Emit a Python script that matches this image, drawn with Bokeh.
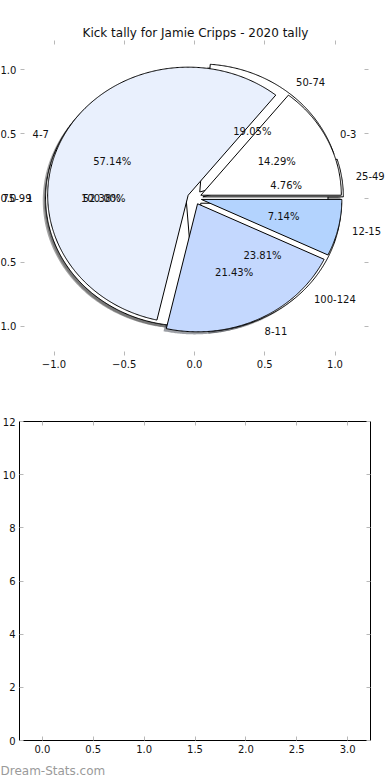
import numpy as np
from bokeh.plotting import figure
from bokeh.layouts import column
from bokeh.models import (ColumnDataSource, LinearAxis, FixedTicker, LabelSet,
                          CustomJSTickFormatter, Range1d, Title)
from bokeh.embed import file_html
from bokeh.resources import INLINE
from bokeh.core.properties import value

# ---------------- data ----------------
chart_title = "Kick tally for Jamie Cripps - 2020 tally"
watermark = "Dream-Stats.com"

kick_labels = ["0-3", "4-7", "8-11", "12-15"]
kick_counts = [2, 8, 3, 1]
kick_colors = ["#ffffff", "#e9f0fd", "#c4d8fe", "#b3d3fe"]
kick_explode = [0.05, 0.05, 0.05, 0.05]

band_labels = ["25-49", "50-74", "75-99", "100-124"]
band_counts = [1, 4, 11, 5]
band_colors = ["#ffffff", "#ffffff", "#ffffff", "#ffffff"]
band_explode = [0.06, 0.06, 0.06, 0.06]

extra_labels = ["1"]
extra_counts = [1]
extra_colors = ["#ffffff"]
extra_explode = [0.05]

pie_ticks = [-1.0, -0.5, 0.0, 0.5, 1.0]
pie_lim = (-1.24, 1.24)
bar_xticks = [0.0, 0.5, 1.0, 1.5, 2.0, 2.5, 3.0]
bar_yticks = [0, 2, 4, 6, 8, 10, 12]
bar_xlim = (-0.225, 3.225)
bar_ylim = (0, 12)

FONT = "DejaVu Sans"


def shade(hexcol, k=0.3):
    h = hexcol.lstrip("#")
    r, g, b = (int(h[i:i + 2], 16) for i in (0, 2, 4))
    return "#%02x%02x%02x" % (int(r * k), int(g * k), int(b * k))


def pie_parts(labels, counts, colors, explode):
    c = np.asarray(counts, dtype=float)
    frac = c / c.sum()
    t1 = 360.0 * np.concatenate([[0.0], np.cumsum(frac)[:-1]])
    t2 = t1 + 360.0 * frac
    w = dict(xs=[], ys=[], fill=[], sxs=[], sys=[], sfill=[])
    lab = dict(x=[], y=[], text=[], align=[])
    pct = dict(x=[], y=[], text=[])
    for a, b, col, e, name, f in zip(t1, t2, colors, explode, labels, frac):
        mid = np.deg2rad((a + b) / 2.0)
        cx, cy = e * np.cos(mid), e * np.sin(mid)
        th = np.deg2rad(np.linspace(a, b, max(int(b - a) * 2, 2) + 1))
        xs = list(cx + np.cos(th))
        ys = list(cy + np.sin(th))
        if b - a < 359.999:
            xs = [cx] + xs + [cx]
            ys = [cy] + ys + [cy]
        w["xs"].append(xs)
        w["ys"].append(ys)
        w["fill"].append(col)
        w["sxs"].append([v - 0.02 for v in xs])
        w["sys"].append([v - 0.02 for v in ys])
        w["sfill"].append(shade(col))
        lx = cx + 1.1 * np.cos(mid)
        ly = cy + 1.1 * np.sin(mid)
        lab["x"].append(lx)
        lab["y"].append(ly)
        lab["text"].append(name)
        lab["align"].append("left" if lx > 0 else "right")
        pct["x"].append(cx + 0.6 * np.cos(mid))
        pct["y"].append(cy + 0.6 * np.sin(mid))
        pct["text"].append("%.2f%%" % (100.0 * f))
    return w, lab, pct


pies = [
    pie_parts(extra_labels, extra_counts, extra_colors, extra_explode),
    pie_parts(band_labels, band_counts, band_colors, band_explode),
    pie_parts(kick_labels, kick_counts, kick_colors, kick_explode),
]

fmt1 = "return tick.toFixed(1).replace('-', '\\u2212');"
fmt0 = "return tick.toFixed(0);"


def style_axis(ax, ticks, code=None, line=None, bounds=None):
    ax.ticker = FixedTicker(ticks=ticks)
    ax.axis_line_color = line
    ax.axis_line_width = 1
    if bounds is not None:
        ax.bounds = bounds
    ax.major_tick_in = 4
    ax.major_tick_out = 0
    ax.minor_tick_line_color = None
    ax.major_tick_line_color = "#b8b8b8"
    ax.major_tick_line_width = 1
    ax.major_label_text_font = FONT
    ax.major_label_text_color = "#111111"
    if code is not None:
        ax.formatter = CustomJSTickFormatter(code=code)
        ax.major_label_text_font_size = "10px"
        ax.major_label_standoff = 4
    else:
        ax.formatter = CustomJSTickFormatter(code="return '';")
        ax.major_label_text_font_size = "0px"
        ax.major_label_standoff = 0


W = 390
# ---------------- pie figure ----------------
unit1 = 140.5
left1 = 194.0
p1 = figure(frame_width=W, frame_height=315,
            x_range=Range1d(-left1 / unit1, (W - left1) / unit1),
            y_range=Range1d(-1.23, 1.23),
            x_axis_location=None, y_axis_location=None,
            output_backend="svg", toolbar_location=None,
            min_border_top=40, min_border_bottom=40, min_border_right=0,
            min_border_left=0)
p1.title.text = chart_title
p1.title.align = "center"
p1.title.offset = left1 - W / 2.0
p1.title.text_font = FONT
p1.title.text_font_size = "12px"
p1.title.text_font_style = "normal"
p1.title.text_color = "#111111"
p1.title.standoff = 2
p1.outline_line_color = None
p1.xgrid.visible = False
p1.ygrid.visible = False

ax = LinearAxis(); style_axis(ax, pie_ticks, fmt1, bounds=pie_lim); p1.add_layout(ax, "below")
ax = LinearAxis(); style_axis(ax, pie_ticks, None, bounds=pie_lim); p1.add_layout(ax, "above")
ax = LinearAxis(fixed_location=pie_lim[0]); style_axis(ax, pie_ticks, fmt1); p1.add_layout(ax, "left")
ax = LinearAxis(fixed_location=pie_lim[1]); style_axis(ax, pie_ticks, None); p1.add_layout(ax, "right")

for w, lab, pct in pies:
    p1.patches("sxs", "sys", source=ColumnDataSource(dict(sxs=w["sxs"], sys=w["sys"], sfill=w["sfill"])),
               fill_color="sfill", fill_alpha=0.5, line_color=None)
for w, lab, pct in pies:
    p1.patches("xs", "ys", source=ColumnDataSource(dict(xs=w["xs"], ys=w["ys"], fill=w["fill"])),
               fill_color="fill", line_color="#000000", line_width=1)
for w, lab, pct in pies:
    p1.add_layout(LabelSet(x="x", y="y", text="text", source=ColumnDataSource(lab),
                           text_align="align", text_baseline="middle",
                           text_font=value(FONT), text_font_size="10px",
                           text_color="#111111"))
    p1.add_layout(LabelSet(x="x", y="y", text="text", source=ColumnDataSource(pct),
                           text_align="center", text_baseline="middle",
                           text_font=value(FONT), text_font_size="10px",
                           text_color="#111111"))

# ---------------- empty bar axes ----------------
fl2, fr2 = 19.0, 370.0          # frame edges of the original axes (px)
ft2, fb2 = 16.0, 335.0          # 12 and 0 positions inside the figure frame (px)
H2 = 355
unit2 = (fr2 - fl2) / (bar_xlim[1] - bar_xlim[0])
unit2y = (fb2 - ft2) / (bar_ylim[1] - bar_ylim[0])
p2 = figure(frame_width=W, frame_height=H2,
            x_range=Range1d(bar_xlim[0] - fl2 / unit2, bar_xlim[1] + (W - fr2) / unit2),
            y_range=Range1d(bar_ylim[0] - (H2 - fb2) / unit2y, bar_ylim[1] + ft2 / unit2y),
            x_axis_location=None, y_axis_location=None,
            output_backend="svg", toolbar_location=None,
            min_border_top=10, min_border_right=0, min_border_left=0,
            min_border_bottom=0)
p2.outline_line_color = None
p2.xgrid.visible = False
p2.ygrid.visible = False
ax = LinearAxis(fixed_location=bar_ylim[0]); style_axis(ax, bar_xticks, fmt1, line="#000000", bounds=bar_xlim); p2.add_layout(ax, "below")
ax = LinearAxis(fixed_location=bar_ylim[1]); style_axis(ax, bar_xticks, None, line="#000000", bounds=bar_xlim); p2.add_layout(ax, "above")
ax = LinearAxis(fixed_location=bar_xlim[0]); style_axis(ax, bar_yticks, fmt0, line="#000000", bounds=bar_ylim); p2.add_layout(ax, "left")
ax = LinearAxis(fixed_location=bar_xlim[1]); style_axis(ax, bar_yticks, None, line="#000000", bounds=bar_ylim); p2.add_layout(ax, "right")
p2.add_layout(Title(text=watermark, align="left", text_font=FONT,
                    text_font_size="12px", text_font_style="normal",
                    text_color="#9a9a9a", offset=0, standoff=2), "below")

layout = column(p1, p2)
open("out.html", "w").write(file_html(layout, INLINE))
